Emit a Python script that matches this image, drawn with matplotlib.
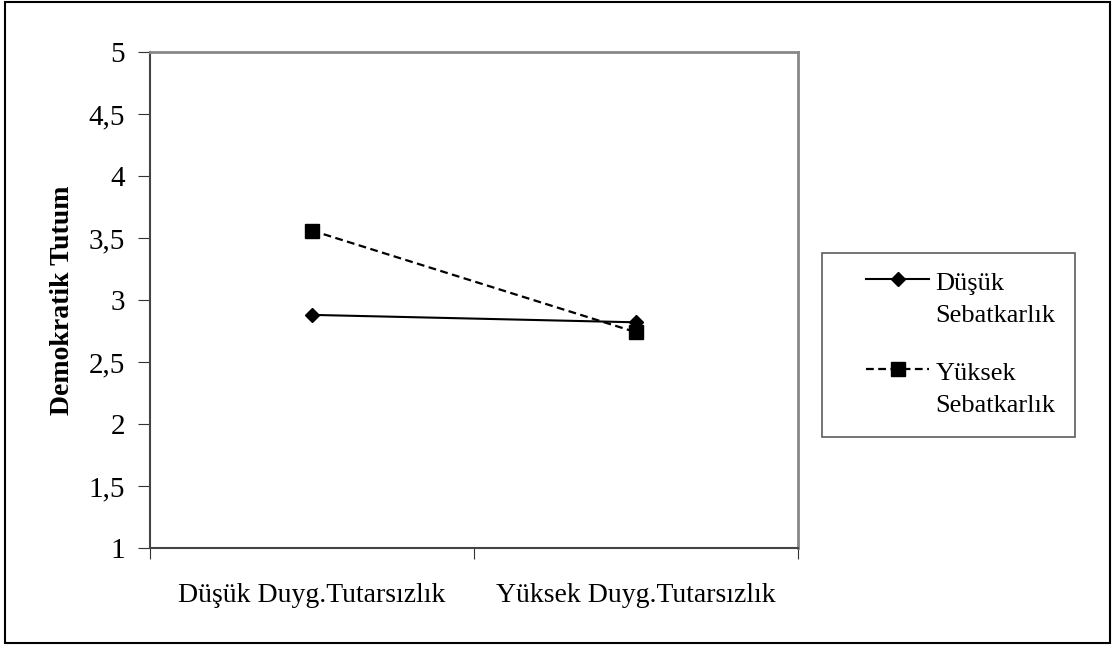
import matplotlib
matplotlib.use("Agg")
import numpy as np
import matplotlib.pyplot as plt
from matplotlib.patches import Rectangle
from matplotlib.legend_handler import HandlerLine2D

categories = ["Düşük Duyg.Tutarsızlık", "Yüksek Duyg.Tutarsızlık"]
dusuk_sebat = [2.88, 2.82]
yuksek_sebat = [3.56, 2.74]
series_labels = ["Düşük\nSebatkarlık", "Yüksek\nSebatkarlık"]
y_ticks = [1, 1.5, 2, 2.5, 3, 3.5, 4, 4.5, 5]
y_tick_labels = ["1", "1,5", "2", "2,5", "3", "3,5", "4", "4,5", "5"]
y_label = "Demokratik Tutum"

plt.rcParams['font.family'] = ['Liberation Serif', 'DejaVu Serif']

LEG_FS = 19
LEG_LS = 1.6
SHRINK = 0.72


class TopHandler(HandlerLine2D):
    """Legend handle level with the first line of a two-line label,
    drawn on the right part of the handle box."""
    def create_artists(self, legend, orig_handle, xdescent, ydescent, width,
                       height, fontsize, trans):
        arts = super().create_artists(legend, orig_handle, xdescent, ydescent,
                                      width, height, fontsize, trans)
        right = -xdescent + width
        dy = (0.5 * (0.7 * LEG_LS + 0.22) + 0.1) * fontsize
        for a in arts:
            a.set_ydata(np.asarray(a.get_ydata()) + dy)
            x = np.asarray(a.get_xdata(), dtype=float)
            a.set_xdata(right - (right - x) * SHRINK)
        return arts


W, H = 1113, 645
fig = plt.figure(figsize=(W / 100, H / 100), dpi=100)
ax = fig.add_axes([150 / W, 1 - 548 / H, (798 - 150) / W, (548 - 52) / H])

xs = [i + 0.5 for i in range(len(categories))]
l1, = ax.plot(xs, dusuk_sebat, color='black', lw=1.5, marker='D', markersize=7,
              label=series_labels[0])
l2, = ax.plot(xs, yuksek_sebat, color='black', lw=1.6, ls=(0, (3.5, 2)), marker='s',
              markersize=9.5, label=series_labels[1])

ax.set_xlim(0, len(categories))
ax.set_ylim(1, 5)
ax.set_yticks(y_ticks)
ax.set_yticklabels(y_tick_labels, fontsize=21)
ax.set_xticks(range(len(categories) + 1))
ax.set_xticklabels([])
ax.set_xticks(xs, minor=True)
ax.set_xticklabels(categories, minor=True, fontsize=20)
ax.tick_params(axis='x', which='minor', length=0, pad=25)
ax.tick_params(axis='x', which='major', length=8, direction='out', color='#333333')
ax.tick_params(axis='y', length=9, direction='out', color='#333333', pad=9)

for s in ['top', 'right']:
    ax.spines[s].set_color('#888888')
    ax.spines[s].set_linewidth(2)
for s in ['left', 'bottom']:
    ax.spines[s].set_color('#444444')
    ax.spines[s].set_linewidth(1.5)

ax.set_ylabel(y_label, fontsize=20, fontweight='bold', labelpad=10)

handler = TopHandler()
leg = fig.legend(handles=[l1, l2], loc='upper left',
                 bbox_to_anchor=(822 / W, 1 - 253 / H), frameon=True,
                 fancybox=False, fontsize=LEG_FS, handlelength=3.3,
                 labelspacing=1.35, borderpad=0.75, borderaxespad=0,
                 handletextpad=0.25,
                 handler_map={l1: handler, l2: handler})
for t in leg.get_texts():
    t.set_linespacing(LEG_LS)
leg.get_frame().set_edgecolor('#333333')
leg.get_frame().set_linewidth(1.2)

fig.patches.append(Rectangle((5 / W, 2 / H), (1110 - 5) / W, (643 - 2) / H,
                             transform=fig.transFigure, fill=False,
                             edgecolor='black', linewidth=1.5))

fig.savefig("out.png", dpi=100)
